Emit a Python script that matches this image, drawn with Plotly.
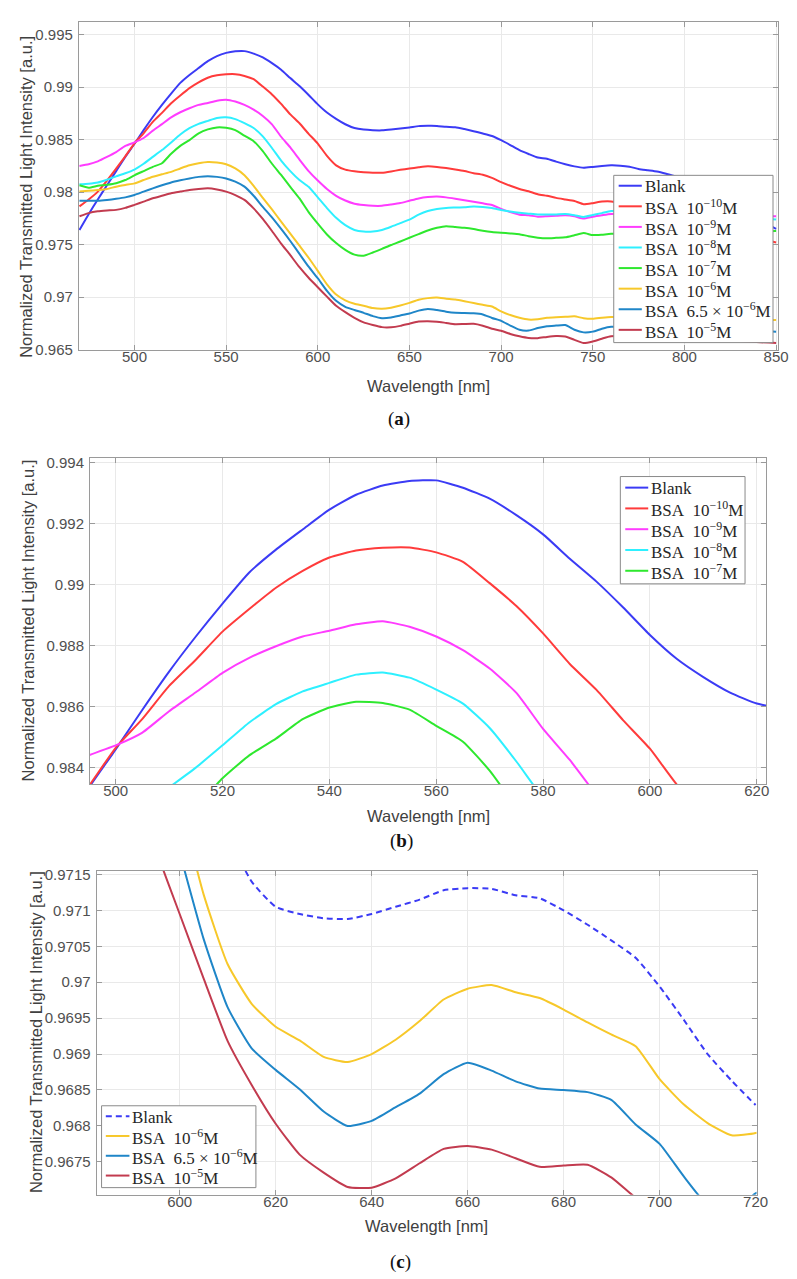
import plotly.graph_objects as go

# ---------------- data ----------------
wavelength = list(range(470, 851, 5))  # nm

blank = [0.97640, 0.97790, 0.97930, 0.98065, 0.98200, 0.98335, 0.98460, 0.98590, 0.98715, 0.98830,
         0.98938, 0.99040, 0.99115, 0.99181, 0.99246, 0.99295, 0.99325, 0.99340, 0.99342, 0.99318,
         0.99282, 0.99228, 0.99165, 0.99085, 0.99010, 0.98925, 0.98835, 0.98757, 0.98697, 0.98646,
         0.98610, 0.98595, 0.98589, 0.98588, 0.98595, 0.98605, 0.98615, 0.98628, 0.98631, 0.98630,
         0.98621, 0.98617, 0.98600, 0.98580, 0.98558, 0.98534, 0.98494, 0.98448, 0.98400, 0.98363,
         0.98329, 0.98318, 0.98290, 0.98265, 0.98245, 0.98232, 0.98240, 0.98249, 0.98255, 0.98252,
         0.98242, 0.98220, 0.98208, 0.98196, 0.98175, 0.98150, None, None, None, None,
         None, None, None, None, None, None, 0.97650]

bsa_1e10 = [0.97864, 0.97930, 0.98005, 0.98110, 0.98224, 0.98340, 0.98465, 0.98560, 0.98668, 0.98754,
            0.98846, 0.98920, 0.98990, 0.99045, 0.99089, 0.99112, 0.99121, 0.99122, 0.99106, 0.99075,
            0.99005, 0.98930, 0.98840, 0.98740, 0.98655, 0.98555, 0.98462, 0.98345, 0.98255, 0.98214,
            0.98198, 0.98190, 0.98185, 0.98185, 0.98197, 0.98212, 0.98225, 0.98236, 0.98245, 0.98240,
            0.98229, 0.98215, 0.98200, 0.98180, 0.98165, 0.98135, 0.98095, 0.98060, 0.98030, 0.98008,
            0.97980, 0.97965, 0.97945, 0.97930, 0.97915, 0.97885, 0.97895, 0.97910, 0.97911, None,
            None, None, None, None, None, None, None, None, None, None,
            None, None, None, None, None, None, 0.97520]

bsa_1e9 = [0.98249, 0.98265, 0.98293, 0.98335, 0.98381, 0.98440, 0.98473, 0.98515, 0.98585, 0.98647,
           0.98711, 0.98760, 0.98798, 0.98830, 0.98849, 0.98870, 0.98880, 0.98862, 0.98830, 0.98785,
           0.98725, 0.98645, 0.98527, 0.98425, 0.98310, 0.98200, 0.98110, 0.98030, 0.97965, 0.97920,
           0.97890, 0.97877, 0.97870, 0.97870, 0.97882, 0.97896, 0.97918, 0.97940, 0.97953, 0.97958,
           0.97950, 0.97937, 0.97922, 0.97908, 0.97893, 0.97878, 0.97840, 0.97810, 0.97785, 0.97779,
           0.97766, 0.97770, 0.97775, 0.97779, 0.97770, 0.97748, 0.97766, 0.97780, 0.97792, None,
           None, None, None, None, None, None, None, None, None, None,
           None, None, None, None, None, None, 0.97770]

bsa_1e8 = [0.98074, 0.98080, 0.98092, 0.98118, 0.98150, 0.98180, 0.98215, 0.98270, 0.98335, 0.98400,
           0.98473, 0.98548, 0.98608, 0.98650, 0.98678, 0.98705, 0.98712, 0.98695, 0.98656, 0.98610,
           0.98530, 0.98420, 0.98300, 0.98200, 0.98115, 0.98050, 0.97950, 0.97848, 0.97755, 0.97685,
           0.97640, 0.97624, 0.97624, 0.97640, 0.97670, 0.97705, 0.97738, 0.97785, 0.97820, 0.97840,
           0.97850, 0.97853, 0.97856, 0.97862, 0.97858, 0.97848, 0.97830, 0.97815, 0.97803, 0.97795,
           0.97787, 0.97786, 0.97788, 0.97792, 0.97780, 0.97763, 0.97782, 0.97800, 0.97820, None,
           None, None, None, None, None, None, None, None, None, None,
           None, None, None, None, None, None, 0.97740]

bsa_1e7 = [0.98065, 0.98042, 0.98060, 0.98070, 0.98085, 0.98115, 0.98160, 0.98200, 0.98240, 0.98275,
           0.98365, 0.98440, 0.98495, 0.98559, 0.98597, 0.98616, 0.98612, 0.98590, 0.98537, 0.98485,
           0.98390, 0.98270, 0.98163, 0.98050, 0.97940, 0.97810, 0.97700, 0.97597, 0.97515, 0.97450,
           0.97405, 0.97395, 0.97425, 0.97460, 0.97497, 0.97530, 0.97566, 0.97600, 0.97635, 0.97660,
           0.97676, 0.97668, 0.97660, 0.97648, 0.97632, 0.97620, 0.97613, 0.97607, 0.97600, 0.97580,
           0.97566, 0.97560, 0.97565, 0.97570, 0.97590, 0.97610, 0.97591, 0.97595, 0.97603, None,
           None, None, None, None, None, None, None, None, None, None,
           None, None, None, None, None, None, 0.97629]

bsa_1e6 = [0.98005, 0.98012, 0.98020, 0.98030, 0.98052, 0.98068, 0.98083, 0.98115, 0.98146, 0.98170,
           0.98193, 0.98225, 0.98255, 0.98275, 0.98287, 0.98282, 0.98265, 0.98225, 0.98161, 0.98060,
           0.97945, 0.97835, 0.97720, 0.97605, 0.97490, 0.97375, 0.97250, 0.97122, 0.97025, 0.96970,
           0.96938, 0.96919, 0.96896, 0.96889, 0.96900, 0.96920, 0.96946, 0.96976, 0.96991, 0.96996,
           0.96986, 0.96978, 0.96962, 0.96944, 0.96927, 0.96911, 0.96865, 0.96830, 0.96804, 0.96787,
           0.96790, 0.96805, 0.96810, 0.96813, 0.96818, 0.96800, 0.96795, 0.96805, 0.96812, None,
           None, None, None, None, None, None, None, None, None, None,
           None, None, None, None, None, None, 0.96782]

bsa_65e6 = [0.97917, 0.97917, 0.97917, 0.97925, 0.97936, 0.97950, 0.97973, 0.98005, 0.98036, 0.98065,
            0.98092, 0.98112, 0.98130, 0.98145, 0.98152, 0.98145, 0.98130, 0.98100, 0.98052, 0.97965,
            0.97860, 0.97760, 0.97650, 0.97535, 0.97412, 0.97290, 0.97180, 0.97060, 0.96965, 0.96908,
            0.96878, 0.96851, 0.96820, 0.96800, 0.96807, 0.96826, 0.96845, 0.96872, 0.96888, 0.96877,
            0.96862, 0.96852, 0.96850, 0.96847, 0.96836, 0.96802, 0.96775, 0.96730, 0.96690, 0.96682,
            0.96706, 0.96724, 0.96730, 0.96735, 0.96690, 0.96665, 0.96672, 0.96700, 0.96718, None,
            None, None, None, None, None, None, None, None, None, None,
            None, None, None, None, None, None, 0.96672]

bsa_1e5 = [0.97770, 0.97800, 0.97817, 0.97825, 0.97831, 0.97850, 0.97879, 0.97910, 0.97942, 0.97965,
           0.97989, 0.98005, 0.98020, 0.98030, 0.98036, 0.98025, 0.98005, 0.97972, 0.97926, 0.97845,
           0.97745, 0.97630, 0.97510, 0.97400, 0.97285, 0.97185, 0.97095, 0.97005, 0.96918, 0.96857,
           0.96803, 0.96760, 0.96735, 0.96715, 0.96714, 0.96727, 0.96748, 0.96768, 0.96772, 0.96767,
           0.96755, 0.96743, 0.96745, 0.96746, 0.96728, 0.96700, 0.96680, 0.96650, 0.96628, 0.96612,
           0.96610, 0.96622, 0.96630, 0.96625, 0.96594, 0.96563, 0.96578, 0.96605, 0.96628, None,
           None, None, None, None, None, None, None, None, None, None,
           None, None, None, None, None, None, 0.96563]

# offset blank curve shown in panel (c)
wavelength_c = list(range(610, 721, 5))
blank_c = [0.97205, 0.97140, 0.97105, 0.97095, 0.97089, 0.97088, 0.97095, 0.97105, 0.97115, 0.97128,
           0.97131, 0.97130, 0.97121, 0.97117, 0.97100, 0.97080, 0.97058, 0.97034, 0.96994, 0.96948,
           0.96900, 0.96863, 0.96829]

names = ["Blank", "BSA&nbsp; 10<sup>−10</sup>M", "BSA&nbsp; 10<sup>−9</sup>M", "BSA&nbsp; 10<sup>−8</sup>M",
         "BSA&nbsp; 10<sup>−7</sup>M", "BSA&nbsp; 10<sup>−6</sup>M", "BSA&nbsp; 6.5 × 10<sup>−6</sup>M",
         "BSA&nbsp; 10<sup>−5</sup>M"]
colors = ["#3b3bf5", "#ff3b3b", "#ff3cff", "#2ef0ff", "#2ee82e", "#f7c82a", "#1f86c8", "#c23b4f"]
series = [blank, bsa_1e10, bsa_1e9, bsa_1e8, bsa_1e7, bsa_1e6, bsa_65e6, bsa_1e5]

xticks_a = [500, 550, 600, 650, 700, 750, 800, 850]
yticks_a = [0.965, 0.97, 0.975, 0.98, 0.985, 0.99, 0.995]
xticks_b = [500, 520, 540, 560, 580, 600, 620]
yticks_b = [0.984, 0.986, 0.988, 0.99, 0.992, 0.994]
xticks_c = [600, 620, 640, 660, 680, 700, 720]
yticks_c = [0.9675, 0.968, 0.9685, 0.969, 0.9695, 0.97, 0.9705, 0.971, 0.9715]

# ---------------- figure ----------------
W, H = 797, 1279
fx = lambda p: p / W
fy = lambda p: 1 - p / H

fig = go.Figure()
DASH_C = "6px,4px"

def add(x, y, name, color, xa, ya, dash="solid"):
    fig.add_trace(go.Scatter(
        x=x, y=y, name=name, mode="lines", connectgaps=True, showlegend=False,
        line=dict(color=color, width=2, shape="spline", smoothing=0.5, dash=dash),
        xaxis=xa, yaxis=ya, hoverinfo="skip"))

# panel (a)
for s, n, c in zip(series, names, colors):
    add(wavelength, s, n, c, "x", "y")
# panel (b)
for s, n, c in zip(series[:5], names[:5], colors[:5]):
    add(wavelength, s, n, c, "x2", "y2")
# panel (c)
add(wavelength_c, blank_c, "Blank", colors[0], "x3", "y3", dash=DASH_C)
for s, n, c in zip(series[5:], names[5:], colors[5:]):
    add(wavelength, s, n, c, "x3", "y3")

tickfont = dict(family="Liberation Sans, Arial, sans-serif", size=15, color="#505050")
common = dict(showline=True, linecolor="#9a9a9a", linewidth=1, mirror="ticks",
              ticks="inside", ticklen=5, tickcolor="#9a9a9a",
              showgrid=True, gridcolor="#e9e9e9", gridwidth=1, zeroline=False,
              tickfont=tickfont)

def fmt(v):
    return ("%.4f" % v).rstrip("0").rstrip(".")

def xaxis(domain, rng, ticks, anchor):
    return dict(common, domain=domain, range=rng, tickvals=ticks,
                ticktext=[str(t) for t in ticks], anchor=anchor, ticklabelstandoff=-7)

def yaxis(domain, rng, ticks, anchor):
    return dict(common, domain=domain, range=rng, tickvals=ticks,
                ticktext=[fmt(t) for t in ticks], anchor=anchor, ticklabelstandoff=2)

fig.update_layout(
    width=W, height=H, margin=dict(l=0, r=0, t=0, b=0),
    paper_bgcolor="white", plot_bgcolor="white", showlegend=False,
    xaxis=xaxis([fx(72), fx(781.7)], [469.7, 851], xticks_a, "y"),
    yaxis=yaxis([fy(340.7), fy(9)], [0.96495, 0.9962], yticks_a, "x"),
    xaxis2=xaxis([fx(83.3), fx(770)], [495.2, 621.8], xticks_b, "y2"),
    yaxis2=yaxis([fy(779), fy(450)], [0.98346, 0.99414], yticks_b, "x2"),
    xaxis3=xaxis([fx(90), fx(760)], [582.7, 720.2], xticks_c, "y3"),
    yaxis3=yaxis([fy(1194), fy(866.7)], [0.96704, 0.97155], yticks_c, "x3"),
)

# ---------------- legends (drawn as boxes, line samples and text) ----------------
shapes, ann = [], []
legfont = dict(family="Liberation Serif, Times New Roman, serif", size=17, color="#262626")

def legend_box(x0, y0, x1, y1, labels, cols, dashes, first_y, step, lx0, lx1, tx):
    shapes.append(dict(type="rect", xref="paper", yref="paper", layer="above",
                       x0=fx(x0), x1=fx(x1), y0=fy(y1), y1=fy(y0),
                       fillcolor="white", line=dict(color="#8a8a8a", width=1)))
    for i, (lab, col, d) in enumerate(zip(labels, cols, dashes)):
        yy = first_y + i * step
        shapes.append(dict(type="line", xref="paper", yref="paper", layer="above",
                           x0=fx(lx0), x1=fx(lx1), y0=fy(yy), y1=fy(yy),
                           line=dict(color=col, width=2, dash=d)))
        ann.append(dict(text=lab, x=fx(tx), y=fy(yy + 1), xanchor="left", yanchor="middle",
                        font=legfont))

legend_box(615, 164, 776.7, 333, names, colors, ["solid"] * 8, 174.5, 20.8, 620, 643.5, 644.5)
legend_box(621.7, 468.3, 748.3, 576.7, names[:5], colors[:5], ["solid"] * 5, 479.5, 21.0, 626.7, 650, 651)
legend_box(95, 1104, 251.7, 1186.7, ["Blank"] + names[5:], colors[:1] + colors[5:],
           [DASH_C, "solid", "solid", "solid"], 1114.5, 20.0, 99.3, 123.3, 124)

titlefont = dict(family="Liberation Sans, Arial, sans-serif", size=16.5, color="#404040")
capfont = dict(family="Liberation Serif, Times New Roman, serif", size=19, color="#111111")
ytitle = "Normalized Transmitted Light Intensity [a.u.]"
for (xx, yy) in [(18, 186), (20, 614), (28, 1030)]:
    ann.append(dict(text=ytitle, x=fx(xx), y=fy(yy), textangle=-90, font=titlefont,
                    xanchor="center", yanchor="middle"))
for (xx, yy) in [(427, 376.5), (426.5, 811.7), (425, 1225)]:
    ann.append(dict(text="Wavelength [nm]", x=fx(xx), y=fy(yy), font=titlefont,
                    xanchor="center", yanchor="middle"))
for (lab, xx, yy) in [("a", 397, 410), ("b", 400, 836), ("c", 398, 1262)]:
    ann.append(dict(text="(<b>%s</b>)" % lab, x=fx(xx), y=fy(yy), font=capfont,
                    xanchor="center", yanchor="middle"))
for a in ann:
    a.update(xref="paper", yref="paper", showarrow=False)
fig.update_layout(shapes=shapes, annotations=ann)

fig.write_html("out.html")
